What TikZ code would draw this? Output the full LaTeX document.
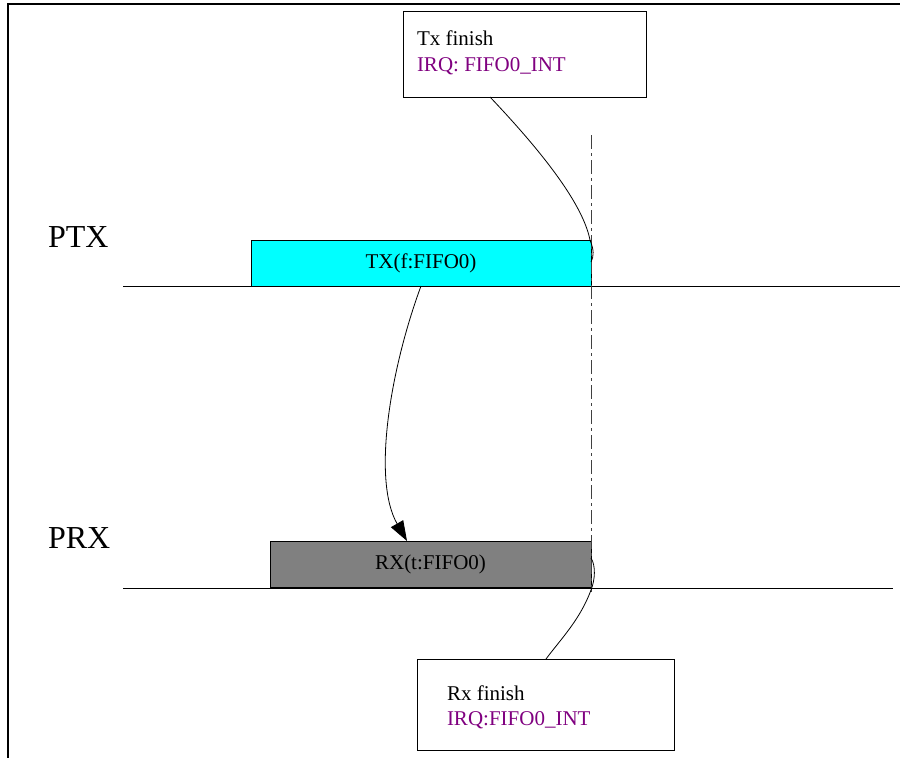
\documentclass[tikz,border=0pt]{standalone}
\usepackage{fontspec}
\setmainfont{Liberation Serif}
\usetikzlibrary{arrows.meta,calc}
\definecolor{irqpurple}{HTML}{800080}
\definecolor{txcyan}{HTML}{00FFFF}
\definecolor{rxgray}{HTML}{808080}
\begin{document}
\begin{tikzpicture}[x=1pt,y=-1pt,
  every node/.style={inner sep=0pt,outer sep=0pt},
  notebox/.style={draw,line width=0.8pt,fill=white,anchor=north west},
  bartx/.style={draw,line width=0.8pt,fill=txcyan,font=\fontsize{21}{25}\selectfont},
  barrx/.style={draw,line width=0.8pt,fill=rxgray,font=\fontsize{21}{25}\selectfont},
  small/.style={font=\fontsize{21}{25}\selectfont,anchor=base west},
  big/.style={font=\fontsize{32}{36}\selectfont,anchor=base west},
  axis/.style={line width=0.8pt},
  link/.style={line width=0.8pt},
  marker/.style={line width=1pt,draw=black!75,dash pattern=on 14pt off 4pt on 3pt off 4pt}]
\useasboundingbox (0,0) rectangle (900,758);
% frame
\draw[line width=1.6pt] (8,758) -- (8,4) -- (900,4);
% axes
\coordinate (ptxL) at (123,286); \coordinate (ptxR) at (900,286);
\coordinate (prxL) at (123,588); \coordinate (prxR) at (893,588);
% labels
\node[big] (ptx) at (48,247) {PTX};
\node[big] (prx) at (48,548) {PRX};
% boxes
\node[notebox,minimum width=243pt,minimum height=86pt] (txbox) at (403,11) {};
\node[small] (txt1) at (417,45) {Tx finish};
\node[small,text=irqpurple] (txt2) at (417,71) {IRQ: FIFO0\_INT};
\node[notebox,minimum width=257pt,minimum height=91pt] (rxbox) at (417,659) {};
\node[small] (rxt1) at (447,700) {Rx finish};
\node[small,text=irqpurple] (rxt2) at (447,725) {IRQ:FIFO0\_INT};
% bars
\node[bartx,minimum width=340pt,minimum height=46pt] (txbar) at (421,263) {TX(f:FIFO0)};
\node[barrx,minimum width=321pt,minimum height=46pt] (rxbar) at (430.5,564) {RX(t:FIFO0)};
\draw[axis] (ptxL) -- (ptxR);
\draw[axis] (prxL) -- (prxR);
% marker
\coordinate (mtop) at (591,135); \coordinate (mbot) at (591,592);
\draw[marker] (mtop) -- (mbot);
% connectors
\coordinate (txbotc) at ($(txbox.south west)+(87,0)$);
\coordinate (txend) at ($(txbar.east)+(0,-1)$);
\draw[link] (txbotc) .. controls (545,155) and (583,205) .. (590,240)
  .. controls (594,250) and (594,256) .. (txend);
\coordinate (txstart) at ($(txbar.south)+(0,0)$);
\coordinate (rxtip) at ($(rxbar.north west)+(137,0)$);
\draw[link,-{Triangle[length=20pt,width=14pt]}] (txstart) .. controls (390,370) and (372,480) .. (rxtip);
\coordinate (rxbarc) at ($(rxbar.east)+(0,-6)$);
\coordinate (rxtopc) at ($(rxbox.north west)+(129,0)$);
\draw[link] (rxbarc) .. controls (596,566) and (595,580) .. (591,590)
  .. controls (580,620) and (560,640) .. (rxtopc);
\end{tikzpicture}
\end{document}
